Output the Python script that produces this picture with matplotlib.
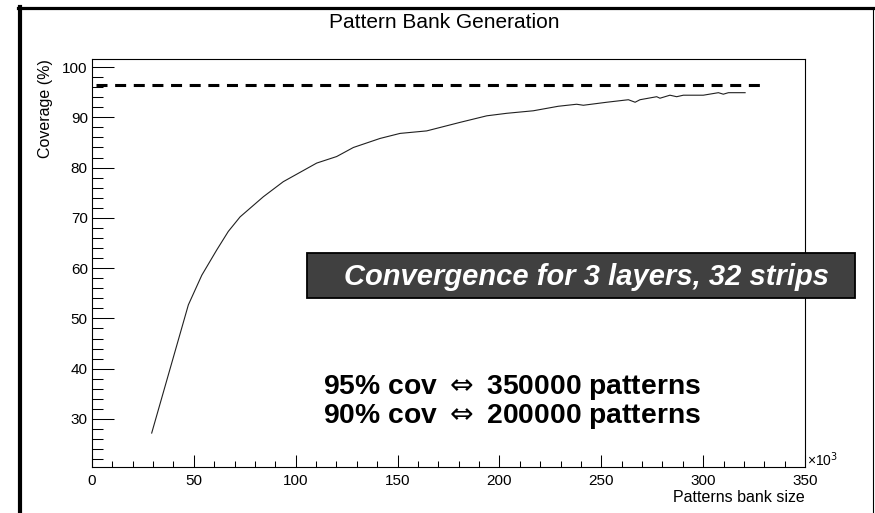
import matplotlib
matplotlib.use("Agg")
import matplotlib.pyplot as plt
from matplotlib.lines import Line2D
from matplotlib.patches import Rectangle
from matplotlib.ticker import MultipleLocator

plt.rcParams["font.family"] = ["Liberation Sans", "DejaVu Sans"]

# coverage curve, bank size in units of 10^3 patterns
bank_size = [29.3, 47.3, 53.9, 61.2, 66.9, 72.7, 84.1, 93.9, 110.3, 120.1,
             128.3, 141.4, 151.2, 164.3, 180.7, 193.8, 203.6, 216.6, 228.9,
             237.9, 241.2, 252.7, 263.3, 266.6, 269.0, 277.2, 278.8, 283.7,
             287.0, 290.3, 300.1, 307.5, 309.9, 312.4, 320.6]
coverage = [27.2, 52.7, 58.6, 63.6, 67.3, 70.2, 74.2, 77.2, 80.9, 82.2,
            84.0, 85.8, 86.8, 87.3, 89.0, 90.3, 90.8, 91.3, 92.2,
            92.6, 92.4, 93.0, 93.5, 93.0, 93.5, 94.1, 93.8, 94.4,
            94.1, 94.4, 94.4, 94.9, 94.6, 94.9, 94.9]

target_level = 96.4
target_span = [2, 328]

box_label = "Convergence for 3 layers, 32 strips"
summary_lines = ["95% cov $\\Leftrightarrow$ 350000 patterns",
                 "90% cov $\\Leftrightarrow$ 200000 patterns"]

fig = plt.figure(figsize=(8.75, 5.13), dpi=100)
W, H = 875, 513
ax = fig.add_axes([92 / W, 1 - 467 / H, 713 / W, 408 / H])

ax.plot(bank_size, coverage, color="#202020", lw=0.8)
ax.plot(target_span, [target_level] * 2, color="black", lw=2.2,
        dashes=(3.6, 2.5))

ax.set_xlim(0, 350)
ax.set_ylim(20.45, 101.6)
ax.xaxis.set_major_locator(MultipleLocator(50))
ax.xaxis.set_minor_locator(MultipleLocator(10))
ax.yaxis.set_major_locator(MultipleLocator(10))
ax.yaxis.set_minor_locator(MultipleLocator(2))
ax.set_yticks([30, 40, 50, 60, 70, 80, 90, 100])

ax.tick_params(axis="both", which="both", direction="in", width=0.75,
               labelsize=11, color="black")
ax.tick_params(axis="x", which="major", length=8.6, pad=5)
ax.tick_params(axis="x", which="minor", length=4.3)
ax.tick_params(axis="y", which="major", length=15.6, pad=3)
ax.tick_params(axis="y", which="minor", length=7.9)
for s in ax.spines.values():
    s.set_linewidth(0.8)

ax.text(1.0, -0.074, "Patterns bank size", transform=ax.transAxes,
        fontsize=11.5, ha="right", va="center")
ax.set_ylabel("Coverage (%)", fontsize=11.5, loc="top", labelpad=7)
ax.text(1.003, 0.018, "\u00d710$^3$", transform=ax.transAxes, fontsize=10,
        ha="left", va="center")

fig.text(444 / W, 1 - 22 / H, "Pattern Bank Generation", fontsize=15,
         ha="center", va="center")

# dark label box over the right part of the plot
ax.add_patch(Rectangle((105.5, 54.06), 269.1, 8.94, facecolor="#404040",
                       edgecolor="black", lw=1.3, clip_on=False, zorder=5))
ax.text(242.5, 58.2, box_label, color="white", fontsize=21,
        fontweight="bold", fontstyle="italic", ha="center", va="center",
        zorder=6)

ax.text(113.4, 35.0, summary_lines[0], fontsize=20.3, fontweight="bold",
        ha="left", va="baseline")
ax.text(113.4, 29.2, summary_lines[1], fontsize=20.3, fontweight="bold",
        ha="left", va="baseline")

# pad frame
fig.add_artist(Line2D([19.5 / W, 19.5 / W], [0, 1 - 7 / H],
                      color="black", lw=3, transform=fig.transFigure))
fig.add_artist(Line2D([18 / W, 1], [1 - 8 / H, 1 - 8 / H],
                      color="black", lw=2.3, transform=fig.transFigure))
fig.add_artist(Line2D([872.5 / W, 872.5 / W], [0, 1 - 8 / H],
                      color="black", lw=0.8, transform=fig.transFigure))

fig.savefig("out.png", dpi=100)
